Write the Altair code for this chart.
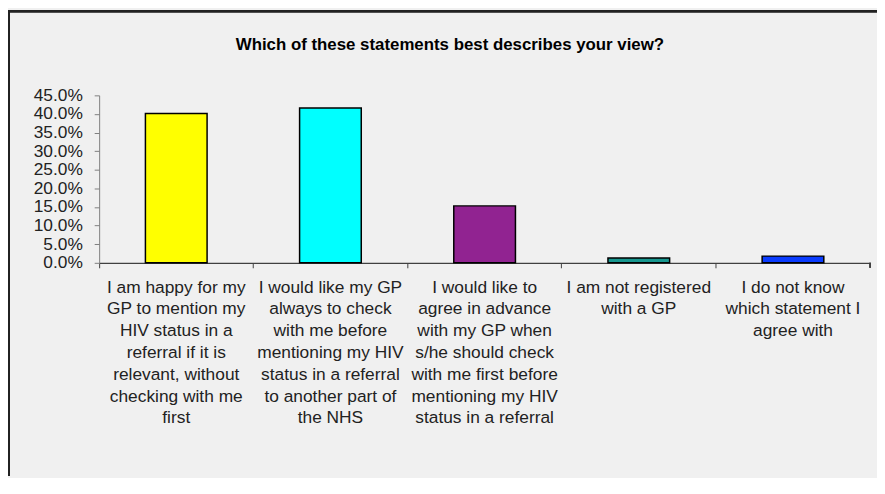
import altair as alt
import pandas as pd

categories = [
    "I am happy for my\nGP to mention my\nHIV status in a\nreferral if it is\nrelevant, without\nchecking with me\nfirst",
    "I would like my GP\nalways to check\nwith me before\nmentioning my HIV\nstatus in a referral\nto another part of\nthe NHS",
    "I would like to\nagree in advance\nwith my GP when\ns/he should check\nwith me first before\nmentioning my HIV\nstatus in a referral",
    "I am not registered\nwith a GP",
    "I do not know\nwhich statement I\nagree with",
]
values = [0.401, 0.416, 0.153, 0.013, 0.018]
colors = ["#ffff00", "#00ffff", "#912391", "#17978f", "#0a3cff"]
y_ticks = [0.0, 0.05, 0.10, 0.15, 0.20, 0.25, 0.30, 0.35, 0.40, 0.45]
title_text = "Which of these statements best describes your view?"

W, H = 778, 169
PAD_L, PAD_T, PAD_R, PAD_B = 92, 86, 7, 215
FONT = "Liberation Sans"
FS = 17.5

df = pd.DataFrame({"cat": categories, "val": values, "color": colors})
title_df = pd.DataFrame({"t": [title_text]})

xscale = alt.Scale(domain=categories, paddingInner=0, paddingOuter=0)
x_enc = alt.X("cat:N", scale=xscale, sort=categories,
              axis=alt.Axis(labels=False, title=None, ticks=True, tickSize=5,
                            bandPosition=0, domainColor="#404040",
                            tickColor="#404040", domainWidth=1.2))
y_enc = alt.Y("val:Q", scale=alt.Scale(domain=[0, 0.45], nice=False),
              axis=alt.Axis(values=y_ticks, format=".1%", title=None,
                            grid=False, tickSize=5, labelPadding=12,
                            labelFont=FONT, labelFontSize=FS,
                            labelColor="#222222", domainColor="#808080",
                            tickColor="#808080", labelBound=False,
                            labelOverlap=False, labelFlush=False))

base = alt.Chart(df)

bars = base.mark_bar(stroke="#000000", strokeWidth=1.5,
                     width=alt.RelativeBandSize(0.4)).encode(
    x=x_enc, y=y_enc,
    color=alt.Color("color:N", scale=None),
)

labels = base.mark_text(font=FONT, fontSize=FS, lineBreak="\n",
                        lineHeight=22, baseline="alphabetic", align="center",
                        color="#222222").encode(
    x=alt.X("cat:N", scale=xscale, sort=categories),
    y=alt.value(H + 30),
    text="cat:N",
)

end_tick = base.mark_rule(color="#404040").encode(
    x=alt.value(W), y=alt.value(H), y2=alt.value(H + 5)
)

frame_top = base.mark_rule(color="#222222", strokeWidth=2).encode(
    x=alt.value(-PAD_L), x2=alt.value(W + PAD_R), y=alt.value(-PAD_T + 1)
)
frame_left = base.mark_rule(color="#222222", strokeWidth=2).encode(
    x=alt.value(-PAD_L + 1), y=alt.value(-PAD_T), y2=alt.value(H + PAD_B)
)

title = alt.Chart(title_df).mark_text(
    font=FONT, fontSize=17, fontWeight="bold", color="#000000",
    align="center", baseline="alphabetic"
).encode(x=alt.value(354), y=alt.value(-46), text="t:N")

chart = alt.layer(bars, labels, end_tick, frame_top, frame_left, title).properties(
    width=W, height=H,
    background="#f0f0f0",
    padding={"left": PAD_L, "top": PAD_T, "right": PAD_R, "bottom": PAD_B},
    autosize=alt.AutoSizeParams(type="none"),
).configure_view(stroke=None)

chart.save("out.html", embed_options={"renderer": "svg", "actions": False})
